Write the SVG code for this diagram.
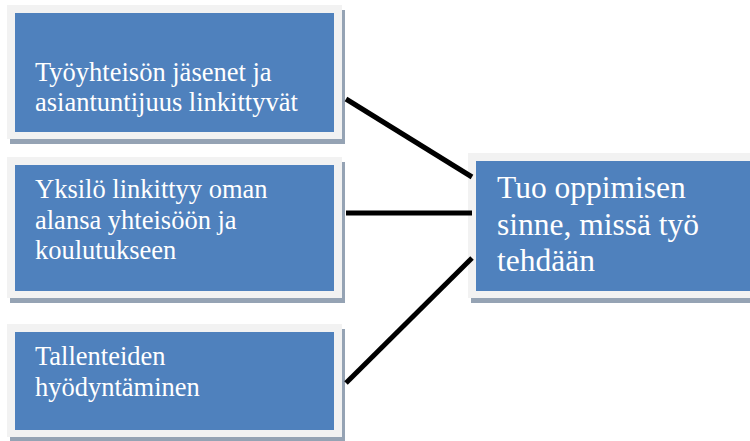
<svg xmlns="http://www.w3.org/2000/svg" width="750" height="441" viewBox="0 0 750 441">
  <style>
    .shadow { fill: #95a3b4; }
    .frame { fill: #f2f2f2; }
    .body { fill: #4f81bd; }
    .label { font-family: "Liberation Serif", "Times New Roman", serif; fill: #ffffff; font-size: 26.5px; }
    .label.big { font-size: 31.5px; }
    .link { stroke: #000000; stroke-width: 5; fill: none; }
  </style>
  <rect width="750" height="441" fill="#ffffff"/>

  <g id="node-tyoyhteiso">
    <rect class="shadow" x="10" y="10" width="335" height="134"/>
    <rect class="frame" x="7" y="5" width="335" height="134"/>
    <rect class="body" x="15" y="13" width="319" height="119"/>
    <text class="label" x="35" y="81">Työyhteisön jäsenet ja</text>
    <text class="label" x="35" y="110.5">asiantuntijuus linkittyvät</text>
  </g>

  <g id="node-yksilo">
    <rect class="shadow" x="10" y="162" width="335" height="141"/>
    <rect class="frame" x="7" y="157" width="335" height="141"/>
    <rect class="body" x="15" y="165" width="319" height="126"/>
    <text class="label" x="35" y="198">Yksilö linkittyy oman</text>
    <text class="label" x="35" y="228.5">alansa yhteisöön ja</text>
    <text class="label" x="35" y="259">koulutukseen</text>
  </g>

  <g id="node-tallenteet">
    <rect class="shadow" x="10" y="329" width="335" height="113"/>
    <rect class="frame" x="7" y="324" width="335" height="113"/>
    <rect class="body" x="15" y="332" width="319" height="98"/>
    <text class="label" x="35" y="365">Tallenteiden</text>
    <text class="label" x="35" y="395.5">hyödyntäminen</text>
  </g>

  <g id="node-oppiminen">
    <rect class="shadow" x="471" y="158" width="290" height="145"/>
    <rect class="frame" x="468" y="153" width="290" height="145"/>
    <rect class="body" x="476" y="161" width="280" height="130"/>
    <text class="label big" x="497" y="198">Tuo oppimisen</text>
    <text class="label big" x="497" y="234.5">sinne, missä työ</text>
    <text class="label big" x="497" y="271">tehdään</text>
  </g>

  <g id="connectors">
    <line class="link" x1="346" y1="99" x2="472" y2="177"/>
    <line class="link" x1="346" y1="213" x2="472" y2="213"/>
    <line class="link" x1="346" y1="383" x2="472" y2="258"/>
  </g>
</svg>
